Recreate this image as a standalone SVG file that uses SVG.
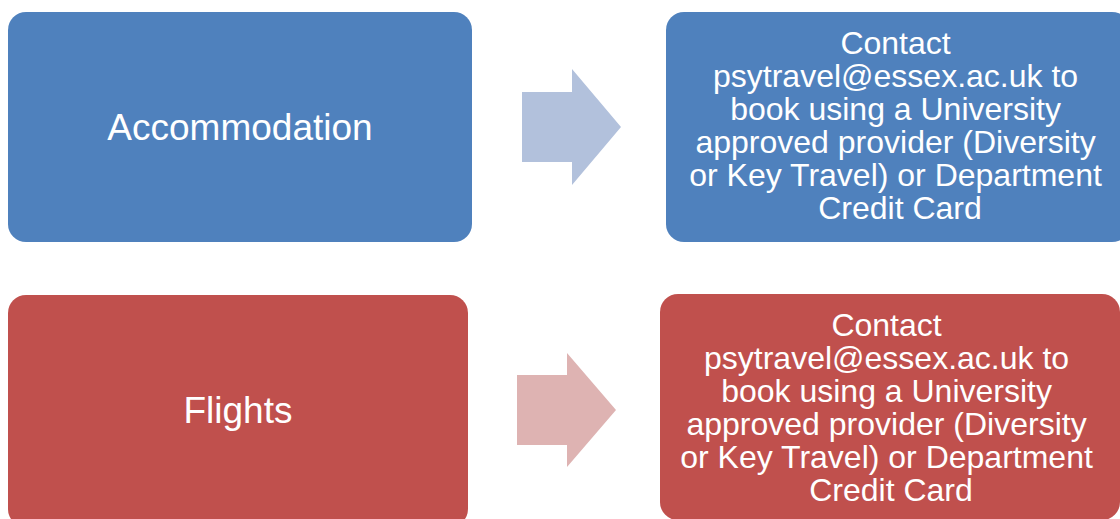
<svg xmlns="http://www.w3.org/2000/svg" width="1120" height="519" viewBox="0 0 1120 519">
<style>
.blue{fill:#4F81BD}
.red{fill:#C0504D}
.t{fill:#FFFFFF;font-family:"Liberation Sans",Arial,sans-serif;text-anchor:middle}
.big{font-size:37px}
.small{font-size:32px}
</style>
<rect width="1120" height="519" fill="#FFFFFF"/>
<g id="accommodation">
<rect class="blue" x="8" y="12" width="464" height="230" rx="18" ry="18"/>
<text class="t big" x="240" y="140">Accommodation</text>
</g>
<g id="accommodation-contact">
<rect class="blue" x="666" y="12" width="464" height="230" rx="18" ry="18"/>
<text class="t small" x="900">
<tspan x="900" y="54">Contact</tspan>
<tspan x="900" y="87">psytravel@essex.ac.uk to</tspan>
<tspan x="900" y="120">book using a University</tspan>
<tspan x="900" y="153">approved provider (Diversity</tspan>
<tspan x="900" y="186">or Key Travel) or Department</tspan>
<tspan x="900" y="219">Credit Card</tspan>
</text>
</g>
<g id="flights">
<rect class="red" x="8" y="295" width="460" height="232" rx="18" ry="18"/>
<text class="t big" x="238" y="423">Flights</text>
</g>
<g id="flights-contact">
<rect class="red" x="660" y="294" width="460" height="226" rx="18" ry="18"/>
<text class="t small" x="891">
<tspan x="891" y="336">Contact</tspan>
<tspan x="891" y="369">psytravel@essex.ac.uk to</tspan>
<tspan x="891" y="402">book using a University</tspan>
<tspan x="891" y="435">approved provider (Diversity</tspan>
<tspan x="891" y="468">or Key Travel) or Department</tspan>
<tspan x="891" y="501">Credit Card</tspan>
</text>
</g>
<g id="connectors">
<polygon fill="#B2C1DC" points="522,92 572,92 572,69 621,127 572,185 572,162 522,162"/>
<polygon fill="#DEB3B2" points="517,375 567,375 567,353 616,410 567,467 567,445 517,445"/>
</g>
</svg>
